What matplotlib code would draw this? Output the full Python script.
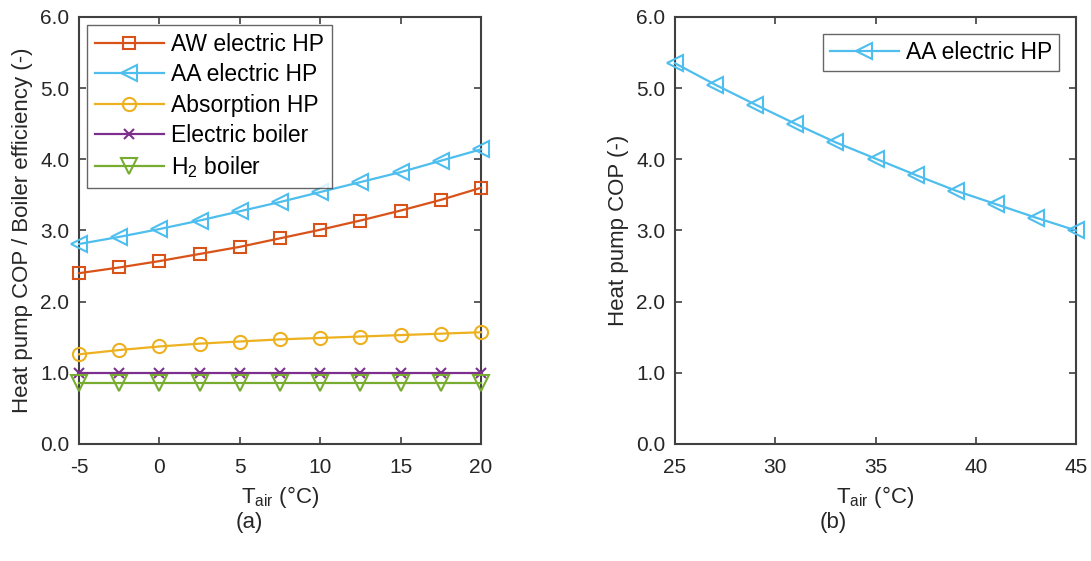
import numpy as np
import matplotlib
matplotlib.use("Agg")
import matplotlib.pyplot as plt

plt.rcParams["font.family"] = ["Liberation Sans", "DejaVu Sans"]
plt.rcParams["mathtext.fontset"] = "custom"
plt.rcParams["mathtext.rm"] = "Liberation Sans"
plt.rcParams["mathtext.it"] = "Liberation Sans"

# ---- data -----------------------------------------------------------
t_cold = [-5, -2.5, 0, 2.5, 5, 7.5, 10, 12.5, 15, 17.5, 20]
aw_hp = [2.40, 2.48, 2.57, 2.67, 2.77, 2.89, 3.01, 3.14, 3.28, 3.43, 3.60]
aa_hp = [2.81, 2.91, 3.02, 3.14, 3.27, 3.40, 3.54, 3.68, 3.82, 3.98, 4.14]
absorption_hp = [1.26, 1.32, 1.37, 1.41, 1.44, 1.47, 1.49, 1.51, 1.53, 1.55, 1.57]
electric_boiler = [1.0] * 11
h2_boiler = [0.85] * 11

t_hot = [25, 27, 29, 31, 33, 35, 37, 39, 41, 43, 45]
aa_hp_hot = [5.35, 5.05, 4.77, 4.50, 4.24, 4.01, 3.78, 3.56, 3.37, 3.18, 3.00]

yticks = [0, 1, 2, 3, 4, 5, 6]

C_RED = "#D95319"
C_BLUE = "#4DBEEE"
C_YEL = "#EDB120"
C_PUR = "#7E2F8E"
C_GRN = "#77AC30"
AX_COL = "#404040"
TXT = "#262626"

fig = plt.figure(figsize=(10.91, 5.61), dpi=100)
ax1 = fig.add_axes([0.0724, 0.2086, 0.3685, 0.7611])
ax2 = fig.add_axes([0.6187, 0.2086, 0.3676, 0.7611])

lw = 1.6
mk = dict(markerfacecolor="none", markeredgewidth=1.5, clip_on=False, zorder=3)

ax1.plot(t_cold, aw_hp, "-s", color=C_RED, lw=lw, ms=8, label="AW electric HP", **mk)
ax1.plot(t_cold, aa_hp, "-<", color=C_BLUE, lw=lw, ms=11, label="AA electric HP", **mk)
ax1.plot(t_cold, absorption_hp, "-o", color=C_YEL, lw=lw, ms=9.5, label="Absorption HP", **mk)
ax1.plot(t_cold, electric_boiler, "-x", color=C_PUR, lw=lw, ms=7, label="Electric boiler", **mk)
ax1.plot(t_cold, h2_boiler, "-v", color=C_GRN, lw=lw, ms=11, label="H$_2$ boiler", **mk)

ax2.plot(t_hot, aa_hp_hot, "-<", color=C_BLUE, lw=lw, ms=11, label="AA electric HP", **mk)

for ax, xt in ((ax1, [-5, 0, 5, 10, 15, 20]), (ax2, [25, 30, 35, 40, 45])):
    ax.set_xlim(xt[0], xt[-1])
    ax.set_ylim(0, 6)
    ax.set_xticks(xt)
    ax.set_xticklabels([str(v) for v in xt])
    ax.set_yticks(yticks)
    ax.set_yticklabels([f"{v:.1f}" for v in yticks])
    ax.tick_params(direction="in", top=True, right=True, length=5, width=1.2,
                   colors=AX_COL, labelsize=15, labelcolor=TXT)
    ax.tick_params(axis="x", pad=10)
    ax.tick_params(axis="y", pad=7)
    for s in ax.spines.values():
        s.set_color(AX_COL)
        s.set_linewidth(1.5)
    ax.set_xlabel("T$_{\\mathrm{air}}$ (°C)", fontsize=16, color=TXT, labelpad=5)

ax1.set_ylabel("Heat pump COP / Boiler efficiency (-)", fontsize=16, color=TXT, labelpad=5)
ax2.set_ylabel("Heat pump COP (-)", fontsize=16, color=TXT, labelpad=5)

leg1 = ax1.legend(loc="upper left", fontsize=16.5, frameon=True, fancybox=False,
                  borderaxespad=0.35, handlelength=3.0, labelspacing=0.32,
                  borderpad=0.35, handletextpad=0.3)
leg2 = ax2.legend(loc="upper right", fontsize=16.5, frameon=True, fancybox=False,
                  borderaxespad=0.75, handlelength=3.0, borderpad=0.3, handletextpad=0.3)
for leg in (leg1, leg2):
    leg.get_frame().set_edgecolor(AX_COL)
    leg.get_frame().set_linewidth(1.0)

fig.text(0.2289, 0.068, "(a)", ha="center", va="center", fontsize=16, color=TXT)
fig.text(0.7636, 0.068, "(b)", ha="center", va="center", fontsize=16, color=TXT)

fig.savefig("out.png", dpi=100)
plt.close(fig)
